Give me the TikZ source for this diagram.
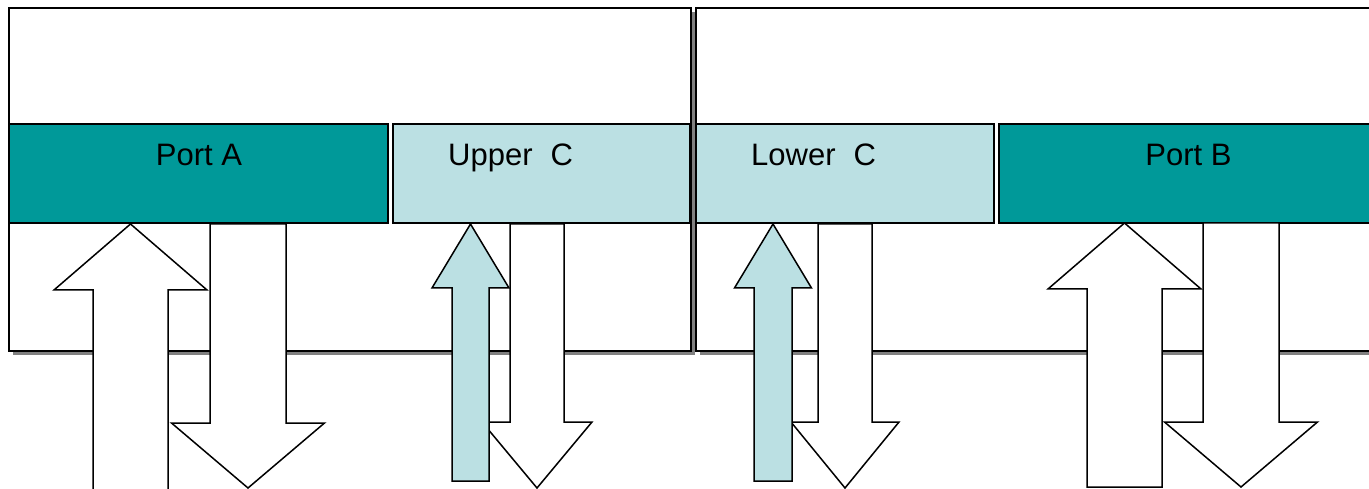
\documentclass[tikz,border=0pt]{standalone}
\usepackage{fontspec}
\setmainfont{Liberation Sans}
\definecolor{portteal}{HTML}{009999}
\definecolor{paleblue}{HTML}{BBE0E3}
\definecolor{shadowgrey}{HTML}{808080}
\tikzset{
  outerbox/.style={draw=black, line width=2pt, fill=white, anchor=north west, inner sep=0pt, outer sep=0pt},
  shadowbox/.style={fill=shadowgrey, draw=none, anchor=north west, inner sep=0pt, outer sep=0pt},
  portbox/.style={draw=black, line width=2pt, fill=portteal, anchor=north west, inner sep=0pt, outer sep=0pt, minimum height=99pt},
  cbox/.style={draw=black, line width=2pt, fill=paleblue, anchor=north west, inner sep=0pt, outer sep=0pt, minimum height=99pt},
  lbl/.style={inner sep=0pt, font=\fontsize{31}{37}\selectfont},
  blockarrow/.style={draw=black, line width=1.5pt, line join=miter},
}
% up arrow: fill, centre x, tip y, head half width, head base y, shaft half width, bottom y
\newcommand\myuparrow[7]{%
  \filldraw[blockarrow, fill=#1] (#2,#3) -- (#2+#4,#5) -- (#2+#6,#5) -- (#2+#6,#7)
     -- (#2-#6,#7) -- (#2-#6,#5) -- (#2-#4,#5) -- cycle;}
% down arrow: fill, centre x, top y, shaft half width, head base y, head half width, tip y
\newcommand\mydownarrow[7]{%
  \filldraw[blockarrow, fill=#1] (#2-#4,#3) -- (#2+#4,#3) -- (#2+#4,#5) -- (#2+#6,#5)
     -- (#2,#7) -- (#2-#6,#5) -- (#2-#4,#5) -- cycle;}
\begin{document}
\begin{tikzpicture}[x=1pt,y=-1pt]
\useasboundingbox (0,0) rectangle (1369,489);
\clip (0,0) rectangle (1369,489);
% shadows of the outer boxes
\node[shadowbox, minimum width=682pt, minimum height=343pt] (leftshadow) at (13,12) {};
\node[shadowbox, minimum width=684pt, minimum height=343pt] (rightshadow) at (700,12) {};
% outer boxes
\node[outerbox, minimum width=682pt, minimum height=343pt] (leftouter) at (9,8) {};
\node[outerbox, minimum width=684pt, minimum height=343pt] (rightouter) at (696,8) {};
% port boxes
\node[portbox, minimum width=379pt] (portA) at (9,124) {};
\node[cbox, minimum width=297pt] (upperC) at (393,124) {};
\node[cbox, minimum width=298pt] (lowerC) at (696,124) {};
\node[portbox, minimum width=378pt] (portB) at (999,124) {};
% labels
\node[lbl, anchor=base] (portAlbl) at (199,166) {Port A};
\node[lbl, anchor=base west] (upperClbl) at (448,166) {Upper\hspace{18pt}C};
\node[lbl, anchor=base west] (lowerClbl) at (751,166) {Lower\hspace{18pt}C};
\node[lbl, anchor=base] (portBlbl) at (1188.5,166) {Port B};
% down arrows
\mydownarrow{white}{248}{224}{38}{423}{76.5}{488}
\mydownarrow{white}{537}{224}{27}{422}{55}{488}
\mydownarrow{white}{845}{224}{27}{422}{54}{488}
\mydownarrow{white}{1241}{223}{38}{422}{76.5}{487}
% up arrows
\myuparrow{white}{130.5}{224}{76.5}{290}{37.5}{495}
\myuparrow{paleblue}{470.5}{224}{38.5}{288}{18.5}{481}
\myuparrow{paleblue}{773}{224}{38.5}{288}{19}{481}
\myuparrow{white}{1124.5}{223}{76.5}{289}{37.5}{487}
\end{tikzpicture}
\end{document}
